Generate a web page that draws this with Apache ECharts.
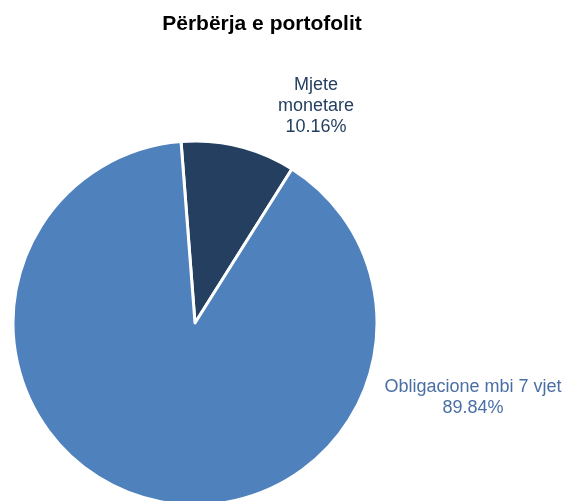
<!DOCTYPE html>
<html>
<head>
<meta charset="utf-8">
<script src="https://cdn.jsdelivr.net/npm/echarts@6/dist/echarts.min.js"></script>
<style>
  html, body { margin: 0; padding: 0; background: #fff; }
  #chart { width: 569px; height: 501px; }
</style>
</head>
<body>
<div id="chart"></div>
<script>
document.addEventListener('DOMContentLoaded', function() {

    const categories = ['Mjete\nmonetare', 'Obligacione mbi 7 vjet'];
    const shares = [10.16, 89.84];
    const sliceColors = ['#243F60', '#4F81BD'];
    const labelColors = ['#243F60', '#4A6FA5'];
    const labelSpots = [[316, 106], [473, 398]];

    const chart = echarts.init(document.getElementById('chart'));

    chart.setOption({
        animation: false,
        title: {
            text: 'Përbërja e portofolit',
            left: 257,
            top: 9,
            textAlign: 'center',
            textStyle: {
                fontFamily: 'Liberation Sans, Arial, sans-serif',
                fontSize: 21,
                fontWeight: 'bold',
                color: '#000'
            }
        },
        series: [{
            type: 'pie',
            center: [195, 323],
            radius: 182,
            startAngle: 94.4,
            clockwise: true,
            itemStyle: {borderColor: '#fff', borderWidth: 3},
            label: {
                show: true,
                position: 'outside',
                fontFamily: 'Liberation Sans, Arial, sans-serif',
                fontSize: 18,
                lineHeight: 21,
                align: 'center',
                overflow: 'none',
                formatter: (p) => p.name + '\n' + p.value.toFixed(2) + '%'
            },
            labelLine: {show: false},
            labelLayout: (p) => ({
                x: labelSpots[p.dataIndex][0],
                y: labelSpots[p.dataIndex][1],
                align: 'center',
                verticalAlign: 'middle',
                width: 300
            }),
            data: categories.map((name, i) => ({
                name: name,
                value: shares[i],
                itemStyle: {color: sliceColors[i]},
                label: {color: labelColors[i]}
            }))
        }]
    });

});
</script>
</body>
</html>
